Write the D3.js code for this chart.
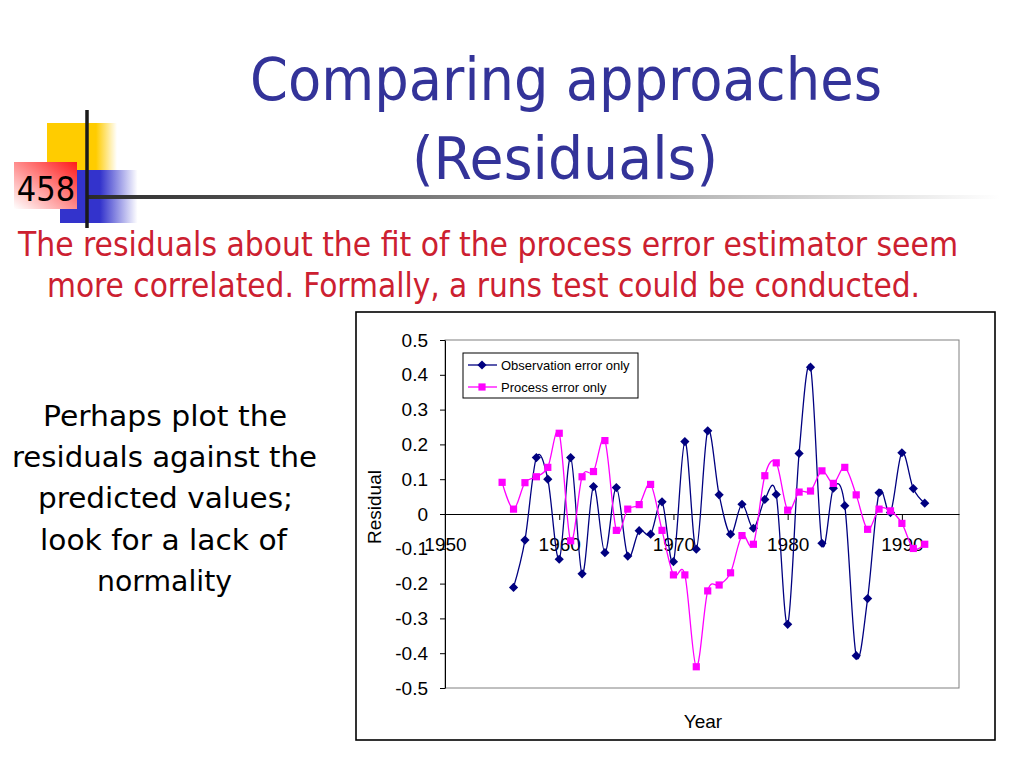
<!DOCTYPE html>
<html>
<head>
<meta charset="utf-8">
<script src="https://cdn.jsdelivr.net/npm/d3@7"></script>
<style>
  body { margin: 0; background: #fff; }
  svg { display: block; }
  .slideText { font-family: "DejaVu Sans", sans-serif; }
  .slideCond { font-family: "DejaVu Sans Condensed", "DejaVu Sans", sans-serif; font-stretch: condensed; }
  .chartText { font-family: "Liberation Sans", Arial, sans-serif; }
</style>
</head>
<body>
<div id="slide"></div>
<script>
// ---- data ----
var obsYears = [1956, 1957, 1958, 1959, 1960, 1961, 1962, 1963, 1964, 1965, 1966, 1967, 1968,
  1969, 1970, 1971, 1972, 1973, 1974, 1975, 1976, 1977, 1978, 1979, 1980, 1981, 1982, 1983,
  1984, 1985, 1986, 1987, 1988, 1989, 1990, 1991, 1992];
var obsResid = [-0.211, -0.075, 0.162, 0.100, -0.130, 0.162, -0.172, 0.079, -0.111, 0.076,
  -0.121, -0.048, -0.058, 0.035, -0.137, 0.208, -0.101, 0.239, 0.055, -0.058, 0.028, -0.041,
  0.042, 0.056, -0.317, 0.174, 0.422, -0.084, 0.074, 0.024, -0.407, -0.243, 0.061, 0.004,
  0.176, 0.073, 0.031];

var procYears = [1955, 1956, 1957, 1958, 1959, 1960, 1961, 1962, 1963, 1964, 1965, 1966, 1967,
  1968, 1969, 1970, 1971, 1972, 1973, 1974, 1975, 1976, 1977, 1978, 1979, 1980, 1981, 1982,
  1983, 1984, 1985, 1986, 1987, 1988, 1989, 1990, 1991, 1992];
var procResid = [0.091, 0.014, 0.090, 0.107, 0.134, 0.232, -0.077, 0.107, 0.122, 0.211, -0.047,
  0.014, 0.027, 0.085, -0.047, -0.175, -0.175, -0.439, -0.221, -0.204, -0.169, -0.062, -0.087,
  0.110, 0.147, 0.011, 0.063, 0.066, 0.124, 0.088, 0.134, 0.055, -0.044, 0.014, 0.009, -0.027,
  -0.099, -0.087];

var seriesNames = ["Observation error only", "Process error only"];
var xTickYears = [1950, 1960, 1970, 1980, 1990];
var yTickValues = [0.5, 0.4, 0.3, 0.2, 0.1, 0, -0.1, -0.2, -0.3, -0.4, -0.5];
var yTickLabels = ["0.5", "0.4", "0.3", "0.2", "0.1", "0", "-0.1", "-0.2", "-0.3", "-0.4", "-0.5"];

var titleLines = ["Comparing approaches", "(Residuals)"];
var noteLines = ["The residuals about the fit of the process error estimator seem",
  "more correlated. Formally, a runs test could be conducted."];
var sideLines = ["Perhaps plot the", "residuals against the", "predicted values;",
  "look for a lack of", "normality"];
var slideNumber = "458";

// ---- canvas ----
var width = 1024;
var height = 768;

var svg = d3.select("#slide")
  .append("svg")
  .attr("width", width)
  .attr("height", height);

var defs = svg.append("defs");

// gradients for the corner decoration
function hGradient(id, stops) {
  var g = defs.append("linearGradient").attr("id", id)
    .attr("x1", 0).attr("y1", 0).attr("x2", 1).attr("y2", 0);
  stops.forEach(function(s) {
    g.append("stop").attr("offset", s[0]).attr("stop-color", s[1]);
  });
}
hGradient("gYellow", [[0, "#ffcc00"], [0.7, "#ffcc00"], [1, "#ffffff"]]);
hGradient("gBlue", [[0, "#3333cc"], [0.5, "#3333cc"], [0.97, "#ffffff"]]);
hGradient("gRule", [[0, "#2a2a2a"], [1, "#ffffff"]]);

var redGrad = defs.append("linearGradient").attr("id", "gRed")
  .attr("x1", 1).attr("y1", 0).attr("x2", 0).attr("y2", 1);
redGrad.append("stop").attr("offset", 0).attr("stop-color", "#ff1a1a");
redGrad.append("stop").attr("offset", 1).attr("stop-color", "#ffffff");

// corner decoration
var deco = svg.append("g");
deco.append("rect").attr("x", 47).attr("y", 123).attr("width", 70).attr("height", 47)
  .attr("fill", "url(#gYellow)");
deco.append("rect").attr("x", 60).attr("y", 170).attr("width", 80).attr("height", 53)
  .attr("fill", "url(#gBlue)");
deco.append("rect").attr("x", 14).attr("y", 162).attr("width", 63).attr("height", 47)
  .attr("fill", "url(#gRed)");
deco.append("rect").attr("x", 87).attr("y", 195).attr("width", 913).attr("height", 4)
  .attr("fill", "url(#gRule)");
deco.append("line").attr("x1", 87).attr("x2", 87).attr("y1", 110).attr("y2", 228)
  .attr("stroke", "#1a1a1a").attr("stroke-width", 3.5);
deco.append("text")
  .attr("class", "slideCond")
  .attr("x", 46).attr("y", 201)
  .attr("text-anchor", "middle")
  .attr("font-size", 34)
  .attr("fill", "#000")
  .text(slideNumber);

// text block helper: lines centred at given x, stretched to the measured widths
function textBlock(lines, cls, size, color, xs, y0, step, widths) {
  svg.append("g").selectAll("text").data(lines).enter()
    .append("text")
    .attr("class", cls)
    .attr("x", function(d, i) { return xs[i]; })
    .attr("y", function(d, i) { return y0 + i * step; })
    .attr("text-anchor", "middle")
    .attr("font-size", size)
    .attr("fill", color)
    .attr("textLength", function(d, i) { return widths[i]; })
    .attr("lengthAdjust", "spacingAndGlyphs")
    .text(function(d) { return d; });
}

// title
textBlock(titleLines, "slideText", 58, "#333399", [566, 565], 100, 79, [632, 306]);
// red note
textBlock(noteLines, "slideCond", 33, "#cc2030", [488, 483.5], 256, 41, [940, 873]);
// side text
textBlock(sideLines, "slideText", 29, "#000", [165, 164.5, 165.5, 163.5, 164.5], 426, 41.2,
  [244, 305, 255, 247, 135]);

// ---- chart ----
var plotLeft = 445, plotRight = 959, plotTop = 340, plotBottom = 688;

svg.append("rect")
  .attr("x", 356).attr("y", 312).attr("width", 639).attr("height", 428)
  .attr("fill", "#fff").attr("stroke", "#000").attr("stroke-width", 1.6);

var xScale = d3.scaleLinear().domain([1950, 1995]).range([plotLeft, plotRight]);
var yScale = d3.scaleLinear().domain([-0.5, 0.5]).range([plotBottom, plotTop]);

// plot area border (grey)
svg.append("rect")
  .attr("x", plotLeft).attr("y", plotTop)
  .attr("width", plotRight - plotLeft).attr("height", plotBottom - plotTop)
  .attr("fill", "none").attr("stroke", "#808080").attr("stroke-width", 1);

// y axis
var yAxis = d3.axisLeft(yScale)
  .tickValues(yTickValues)
  .tickFormat(function(d, i) { return yTickLabels[i]; })
  .tickSize(5).tickSizeOuter(0).tickPadding(12);
var gy = svg.append("g")
  .attr("transform", "translate(" + plotLeft + ",0)")
  .call(yAxis);
gy.attr("font-family", null).attr("font-size", null);
gy.selectAll("text").attr("class", "chartText").attr("font-size", 19).attr("fill", "#000");
gy.selectAll("line, path").attr("stroke", "#000");

// x axis crosses at zero
var xAxis = d3.axisBottom(xScale)
  .tickValues(xTickYears)
  .tickFormat(d3.format("d"))
  .tickSize(6).tickSizeOuter(0).tickPadding(18);
var gx = svg.append("g")
  .attr("transform", "translate(0," + yScale(0) + ")")
  .call(xAxis);
gx.attr("font-family", null).attr("font-size", null);
gx.selectAll("text").attr("class", "chartText").attr("font-size", 19).attr("fill", "#000");
gx.selectAll("line, path").attr("stroke", "#000");

// axis titles
svg.append("text")
  .attr("class", "chartText")
  .attr("transform", "translate(381,507)rotate(-90)")
  .attr("text-anchor", "middle")
  .attr("font-size", 19)
  .text("Residual");
svg.append("text")
  .attr("class", "chartText")
  .attr("x", 703).attr("y", 728)
  .attr("text-anchor", "middle")
  .attr("font-size", 19)
  .text("Year");

// series
var obsData = obsYears.map(function(yr, i) { return { x: yr, y: obsResid[i] }; });
var procData = procYears.map(function(yr, i) { return { x: yr, y: procResid[i] }; });

var line = d3.line()
  .x(function(d) { return xScale(d.x); })
  .y(function(d) { return yScale(d.y); })
  .curve(d3.curveCatmullRom.alpha(0));

var diamond = "M0,-4.6L4.6,0L0,4.6L-4.6,0Z";
var square = "M-3.6,-3.6H3.6V3.6H-3.6Z";

svg.append("path").datum(obsData)
  .attr("d", line).attr("fill", "none")
  .attr("stroke", "#000080").attr("stroke-width", 1.3);
svg.append("g").selectAll("path").data(obsData).enter()
  .append("path")
  .attr("transform", function(d) { return "translate(" + xScale(d.x) + "," + yScale(d.y) + ")"; })
  .attr("d", diamond).attr("fill", "#000080");

svg.append("path").datum(procData)
  .attr("d", line).attr("fill", "none")
  .attr("stroke", "#ff00ff").attr("stroke-width", 1.3);
svg.append("g").selectAll("path").data(procData).enter()
  .append("path")
  .attr("transform", function(d) { return "translate(" + xScale(d.x) + "," + yScale(d.y) + ")"; })
  .attr("d", square).attr("fill", "#ff00ff");

// legend
var legend = svg.append("g");
legend.append("rect")
  .attr("x", 463).attr("y", 353).attr("width", 175).attr("height", 45)
  .attr("fill", "#fff").attr("stroke", "#000").attr("stroke-width", 1);
var legColors = ["#000080", "#ff00ff"];
var legMarks = [diamond, square];
seriesNames.forEach(function(name, i) {
  var ly = 365 + i * 22;
  legend.append("line")
    .attr("x1", 468).attr("x2", 497).attr("y1", ly).attr("y2", ly)
    .attr("stroke", legColors[i]).attr("stroke-width", 1.3);
  legend.append("path")
    .attr("transform", "translate(482," + ly + ")")
    .attr("d", legMarks[i]).attr("fill", legColors[i]);
  legend.append("text")
    .attr("class", "chartText")
    .attr("x", 501).attr("y", ly + 4.5)
    .attr("font-size", 13)
    .text(name);
});
</script>
</body>
</html>
